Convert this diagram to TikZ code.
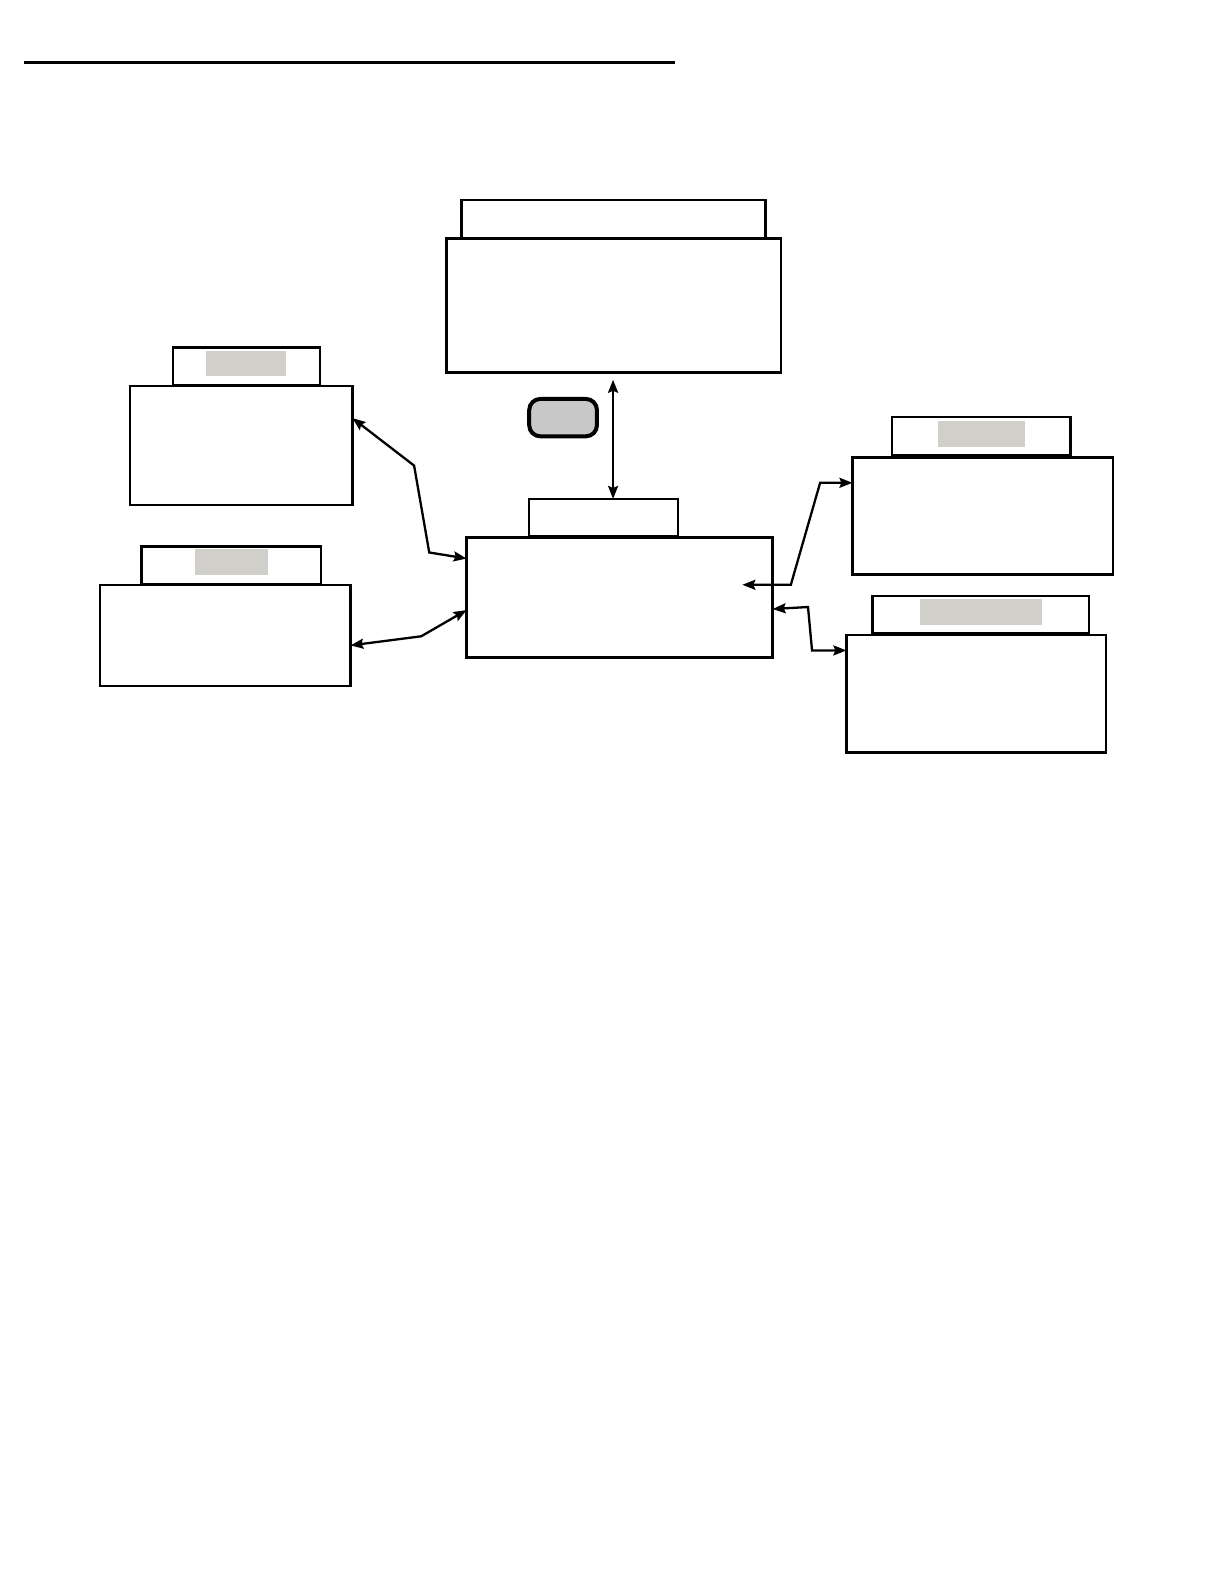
\documentclass[tikz,border=0pt]{standalone}
\usetikzlibrary{arrows.meta}
\definecolor{labgray}{HTML}{D0CFC9}
\definecolor{pillgray}{HTML}{C8C8C8}
\begin{document}
\begin{tikzpicture}[x=1.01pt,y=-1.01pt,
  sz/.style 2 args={minimum width=#1*1.01pt,minimum height=#2*1.01pt},
  box/.style={draw=black,line width=2.4pt,fill=white,inner sep=0pt,outer sep=0pt,rectangle},
  lab/.style={fill=labgray,draw=none,inner sep=0pt,outer sep=0pt,rectangle},
  pill/.style={draw=black,line width=4pt,fill=pillgray,rounded corners=11pt,inner sep=0pt,outer sep=0pt,rectangle},
  conn/.style={line width=2.3pt,{Stealth[length=13pt,width=10pt,inset=2pt]}-{Stealth[length=13pt,width=10pt,inset=2pt]}}]
\useasboundingbox (0,0) rectangle (1211.88,1568.32);
\fill[white] (0,0) rectangle (1211.88,1568.32);
\coordinate (ls) at (24,62);
\coordinate (le) at (668,62);
\draw[line width=3.4pt] (ls) -- (le);
% top
\node[box,sz={301}{38}] (th) at (607.5,217) {};
\node[box,sz={331}{133}] (tb) at (607.5,302.5) {};
% left 1
\node[box,sz={146}{37}] (l1h) at (244,362.5) {};
\node[lab,sz={79}{24}] (l1g) at (243.5,360) {};
\node[box,sz={220}{118}] (l1) at (239,441) {};
% left 2
\node[box,sz={178}{37}] (l2h) at (229,559.5) {};
\node[lab,sz={72}{25}] (l2g) at (229,556.5) {};
\node[box,sz={248}{100}] (l2) at (223,629) {};
% center
\node[box,sz={147}{37}] (ch) at (597.5,512.5) {};
\node[box,sz={303}{119}] (cb) at (613.5,591.5) {};
% pill
\node[pill,sz={67}{37}] (pl) at (557.5,413.5) {};
% right 1
\node[box,sz={177}{38}] (r1h) at (971.5,432) {};
\node[lab,sz={86}{26}] (r1g) at (972,430) {};
\node[box,sz={258}{116}] (r1) at (973,511) {};
% right 2
\node[box,sz={214}{37}] (r2h) at (971,608.5) {};
\node[lab,sz={121}{26}] (r2g) at (971.5,606) {};
\node[box,sz={257}{116}] (r2) at (966.5,687) {};
% connectors
\coordinate (vt) at (607,376);
\draw[conn] (vt) -- (ch.north -| vt);
\draw[conn] (cb.west |- 0,553) -- (425,547) -- (410,461) -- (l1.east |- 0,414);
\draw[conn] (cb.west |- 0,604) -- (417,630) -- (l2.east |- 0,639);
\coordinate (ri) at (735,579);
\draw[conn] (r1.west |- 0,478) -- (812,478) -- (783,579) -- (ri);
\draw[conn] (cb.east |- 0,603) -- (800,601) -- (804,644) -- (r2.west |- 0,644);
\end{tikzpicture}
\end{document}
